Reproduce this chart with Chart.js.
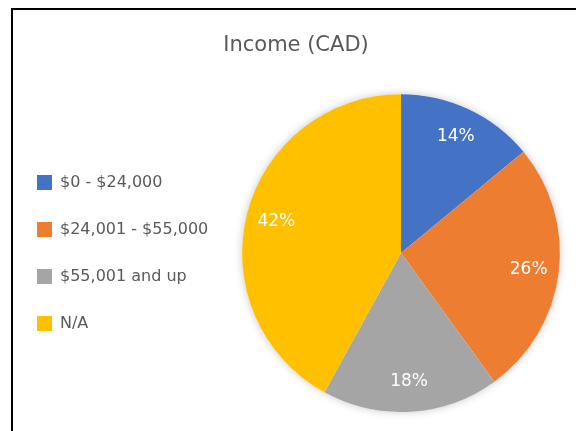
<!DOCTYPE html>
<html>
<head>
<meta charset="utf-8">
<script src="https://cdn.jsdelivr.net/npm/chart.js@4/dist/chart.umd.min.js"></script>
<style>
  html, body { margin: 0; padding: 0; background: #fff; overflow: hidden; }
  #wrap { width: 576px; height: 431px; position: relative; overflow: hidden; }
  #c { position: absolute; left: 0; top: 0; }
</style>
</head>
<body>
<div id="wrap"><canvas id="c" width="592" height="431"></canvas></div>
<script>
const categories = ["$0 - $24,000", "$24,001 - $55,000", "$55,001 and up", "N/A"];
const values = [14, 26, 18, 42];
const colors = ["#4472C4", "#ED7D31", "#A5A5A5", "#FFC000"];
const chartTitle = "Income (CAD)";

const FONT = "'DejaVu Sans', 'Noto Sans', sans-serif";

const frame = {
  id: 'frame',
  beforeDraw(chart) {
    const ctx = chart.ctx;
    ctx.save();
    ctx.fillStyle = '#000';
    ctx.fillRect(11, 8, 2, chart.height - 8);
    ctx.fillRect(11, 8, chart.width - 11, 2);
    ctx.restore();
  }
};

const shadow = {
  id: 'shadow',
  beforeDatasetsDraw(chart) {
    const arc = chart.getDatasetMeta(0).data[0];
    if (!arc) return;
    const ctx = chart.ctx;
    ctx.save();
    ctx.shadowColor = 'rgba(0,0,0,0.22)';
    ctx.shadowBlur = 9;
    ctx.fillStyle = '#fff';
    ctx.beginPath();
    ctx.arc(arc.x, arc.y, arc.outerRadius, 0, Math.PI * 2);
    ctx.fill();
    ctx.restore();
  }
};

const pctLabels = {
  id: 'pctLabels',
  afterDatasetsDraw(chart) {
    const meta = chart.getDatasetMeta(0);
    const data = chart.data.datasets[0].data;
    const total = data.reduce((a, b) => a + b, 0);
    const ctx = chart.ctx;
    ctx.save();
    ctx.fillStyle = '#fff';
    ctx.font = "17px " + FONT;
    ctx.textAlign = 'center';
    ctx.textBaseline = 'middle';
    meta.data.forEach((arc, i) => {
      const mid = (arc.startAngle + arc.endAngle) / 2;
      const r = arc.outerRadius * 0.81;
      const x = arc.x + Math.cos(mid) * r;
      const y = arc.y + Math.sin(mid) * r;
      ctx.fillText(Math.round(data[i] / total * 100) + '%', x, y);
    });
    ctx.restore();
  }
};

new Chart(document.getElementById('c'), {
  type: 'pie',
  data: {
    labels: categories,
    datasets: [{
      data: values,
      backgroundColor: colors,
      borderWidth: 0,
      hoverOffset: 0
    }]
  },
  options: {
    responsive: false,
    animation: false,
    layout: { padding: { left: 6, right: 6, top: 10, bottom: 19 } },
    plugins: {
      tooltip: { enabled: false },
      title: {
        display: true,
        text: chartTitle,
        color: '#595959',
        font: { family: FONT, size: 21, weight: 'normal' },
        padding: { top: 23, bottom: 36 }
      },
      legend: {
        position: 'left',
        fullSize: false,
        maxWidth: 210,
        labels: {
          color: '#595959',
          font: { family: FONT, size: 16 },
          boxWidth: 15,
          boxHeight: 15,
          padding: 31
        }
      }
    }
  },
  plugins: [frame, shadow, pctLabels]
});
</script>
</body>
</html>
